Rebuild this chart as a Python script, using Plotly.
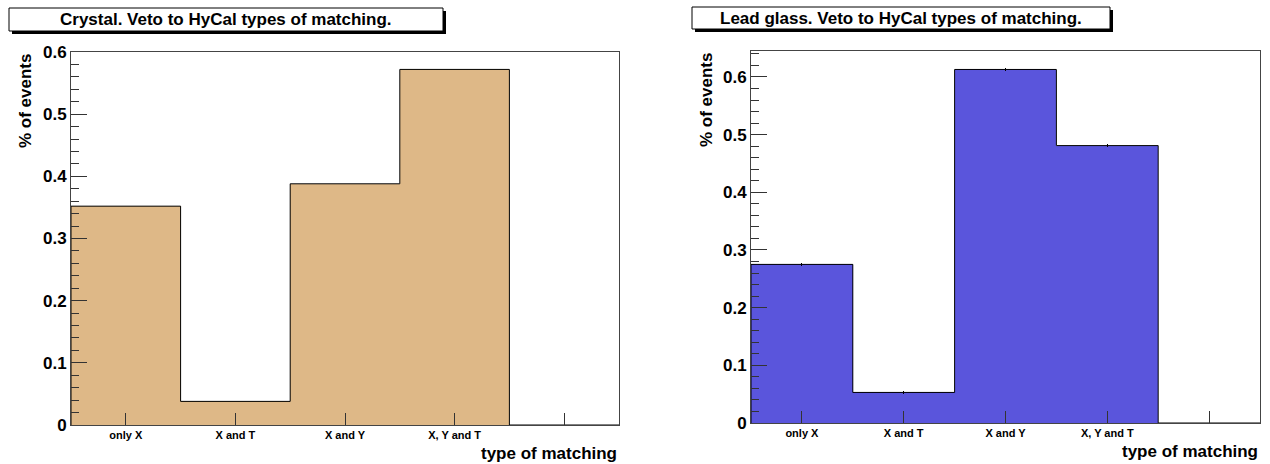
import plotly.graph_objects as go

categories = ["only X", "X and T", "X and Y", "X, Y and T", ""]
crystal_vals = [0.352, 0.038, 0.388, 0.572, 0.0]
leadglass_vals = [0.275, 0.053, 0.613, 0.481, 0.0]
leadglass_err = [0.002, 0.002, 0.002, 0.002, 0.0]
bin_centers = [0.5, 1.5, 2.5, 3.5, 4.5]
bin_edges = [0, 1, 2, 3, 4, 5]

W, H = 1270, 464
FONT = "Liberation Sans, Arial, Helvetica, sans-serif"
CRYSTAL_COLOR = "#DEB887"
LEAD_COLOR = "#5A55DC"


def px(x):
    return x / W


def py(y):
    return 1 - y / H


fig = go.Figure()


def add_hist(vals, color, xa, ya, err=None):
    bar = dict(
        x=bin_centers, y=vals, width=1.0, marker=dict(color=color, line=dict(width=0)),
        xaxis=xa, yaxis=ya, showlegend=False, hoverinfo="skip",
    )
    if err is not None:
        bar["error_y"] = dict(type="data", array=err, visible=True, color="black",
                              thickness=1, width=0)
    fig.add_trace(go.Bar(**bar))
    xs = [bin_edges[0]] + bin_edges[:-1] + [bin_edges[-1], bin_edges[-1]]
    ys = [0] + list(vals) + [vals[-1], 0]
    fig.add_trace(go.Scatter(x=xs, y=ys, mode="lines", line=dict(color="black", width=1, shape="hv"),
                             xaxis=xa, yaxis=ya, showlegend=False, hoverinfo="skip"))


add_hist(crystal_vals, CRYSTAL_COLOR, "x", "y")
add_hist(leadglass_vals, LEAD_COLOR, "x2", "y2", leadglass_err)

xcommon = dict(range=[0, 5], tickvals=bin_centers, ticktext=categories, ticks="inside",
               ticklen=12, tickcolor="#333", showgrid=False, zeroline=False, showline=True,
               linecolor="#444", linewidth=1, mirror=True, automargin=False,
               tickfont=dict(family=FONT, size=11, color="black", weight="bold"))
ycommon = dict(dtick=0.1, ticks="inside", ticklen=16, tickcolor="#333", showgrid=False,
               zeroline=False, showline=True, linecolor="#444", linewidth=1, mirror=True,
               automargin=False,
               minor=dict(dtick=0.02, ticks="inside", ticklen=8, tickcolor="#333", showgrid=False),
               tickfont=dict(family=FONT, size=17, color="black", weight="bold"))

# panel geometry (pixels)
L = dict(x0=71, x1=619, y0=52, y1=425)
R = dict(x0=751, x1=1260, y0=51, y1=423)

fig.update_layout(
    width=W, height=H, margin=dict(l=0, r=0, t=0, b=0),
    paper_bgcolor="white", plot_bgcolor="white", bargap=0, barmode="overlay",
    xaxis=dict(domain=[px(L["x0"]), px(L["x1"])], anchor="y", **xcommon),
    yaxis=dict(domain=[py(L["y1"]), py(L["y0"])], anchor="x", range=[0, 0.6], **ycommon),
    xaxis2=dict(domain=[px(R["x0"]), px(R["x1"])], anchor="y2", **xcommon),
    yaxis2=dict(domain=[py(R["y1"]), py(R["y0"])], anchor="x2", range=[0, 0.645], **ycommon),
)

shapes = []
annotations = []


def title_box(x0, x1, y0, y1, text):
    shapes.append(dict(type="rect", xref="paper", yref="paper",
                       x0=px(x0 + 3), x1=px(x1 + 3), y0=py(y1 + 3), y1=py(y0 + 3),
                       fillcolor="black", line=dict(width=0), layer="above"))
    shapes.append(dict(type="rect", xref="paper", yref="paper",
                       x0=px(x0), x1=px(x1), y0=py(y1), y1=py(y0),
                       fillcolor="white", line=dict(color="black", width=1), layer="above"))
    annotations.append(dict(x=px((x0 + x1) / 2), y=py((y0 + y1) / 2), xref="paper", yref="paper",
                            text=text, showarrow=False, xanchor="center", yanchor="middle",
                            font=dict(family=FONT, size=17, color="black", weight="bold")))


title_box(9, 443, 8, 31, "Crystal. Veto to HyCal types of matching.")
title_box(692, 1110, 7, 29, "Lead glass. Veto to HyCal types of matching.")

for P, ycx in ((L, 26), (R, 706)):
    annotations.append(dict(x=px(ycx), y=py(P["y0"]), xref="paper", yref="paper",
                            text="% of events", textangle=-90, showarrow=False,
                            xanchor="center", yanchor="top",
                            font=dict(family=FONT, size=17, color="black", weight="bold")))
    annotations.append(dict(x=px(P["x1"]), y=py(P["y1"] + 28), xref="paper", yref="paper",
                            text="type of matching", showarrow=False,
                            xanchor="right", yanchor="middle",
                            font=dict(family=FONT, size=17, color="black", weight="bold")))

fig.update_layout(shapes=shapes, annotations=annotations)
fig.write_html("out.html")
